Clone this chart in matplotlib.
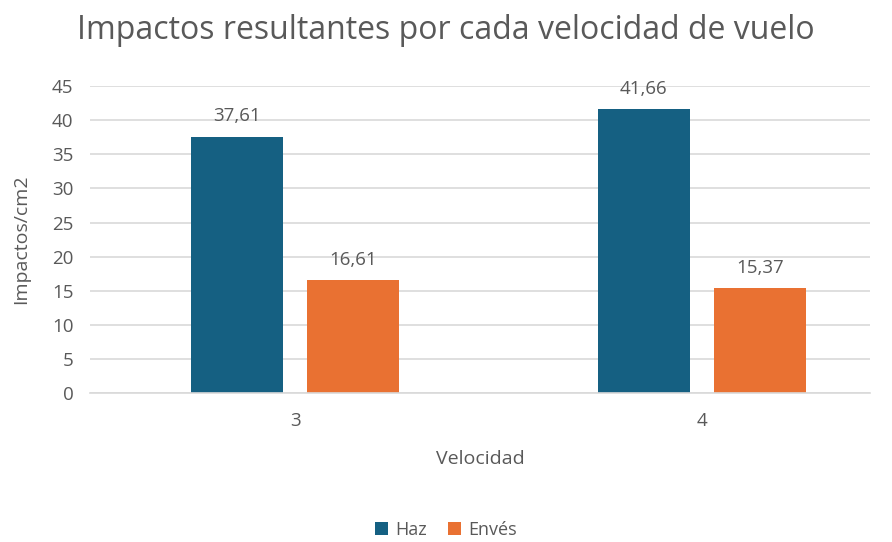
import matplotlib.pyplot as plt
import numpy as np

plt.rcParams['font.family'] = ['Open Sans', 'DejaVu Sans']

velocidades = ['3', '4']
haz = [37.61, 41.66]
enves = [16.61, 15.37]
series = ['Haz', 'Envés']
colores = ['#156082', '#E97132']
texto = '#595959'

fig = plt.figure(figsize=(8.92, 5.42), dpi=100)
ax = fig.add_axes([0.101, 0.275, 0.874, 0.566])

x = np.arange(len(velocidades))
ancho = 0.226
offs = 0.143
b1 = ax.bar(x - offs, haz, ancho, color=colores[0], label=series[0])
b2 = ax.bar(x + offs, enves, ancho, color=colores[1], label=series[1])

# etiquetas de valor con coma decimal
for barras, vals in [(b1, haz), (b2, enves)]:
    for b, v in zip(barras, vals):
        ax.annotate(f'{v:.2f}'.replace('.', ','),
                    (b.get_x() + b.get_width() / 2, v),
                    xytext=(0, 8), textcoords='offset points',
                    ha='center', va='bottom', fontsize=13.5, color=texto)

ax.set_ylim(0, 45)
ax.set_yticks(range(0, 46, 5))
ax.set_xlim(-0.504, 1.413)
ax.set_xticks(x)
ax.set_xticklabels(velocidades)
ax.yaxis.grid(True, color='#d9d9d9', linewidth=1.2)
ax.set_axisbelow(True)
for s in ['top', 'right', 'left']:
    ax.spines[s].set_visible(False)
ax.spines['bottom'].set_color('#d9d9d9')
ax.spines['bottom'].set_linewidth(1.2)
ax.tick_params(axis='both', length=0, labelsize=13.5, labelcolor=texto)
ax.tick_params(axis='y', pad=12)
ax.tick_params(axis='x', pad=14)

ax.set_ylabel('Impactos/cm2', fontsize=14, color=texto)
ax.yaxis.set_label_coords(-0.077, 0.5)
ax.set_xlabel('Velocidad', fontsize=14, color=texto, labelpad=14)

fig.text(0.5, 0.944, 'Impactos resultantes por cada velocidad de vuelo',
         ha='center', va='center', fontsize=23, color=texto)

fig.legend(handles=[b1, b2], labels=series, loc='center', ncol=2,
           bbox_to_anchor=(0.5, 0.022), frameon=False, fontsize=13,
           labelcolor=texto, handlelength=0.7, handleheight=0.7,
           columnspacing=1.2, handletextpad=0.4)

fig.savefig('out.png', dpi=100)
